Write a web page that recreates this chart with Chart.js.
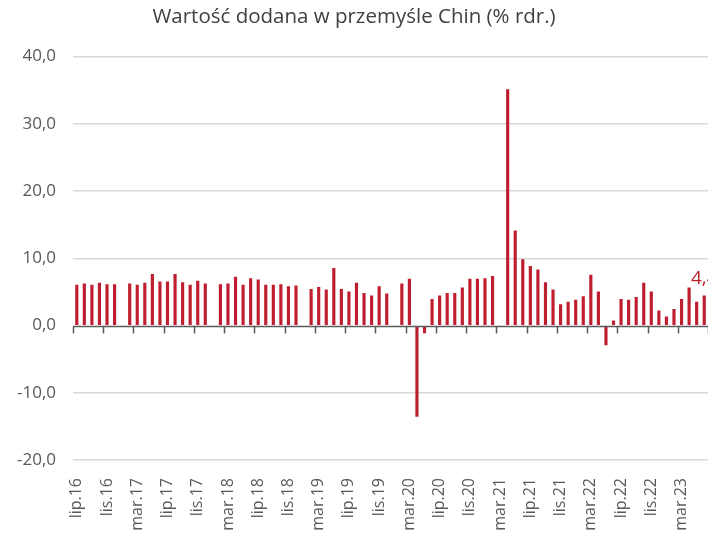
<!DOCTYPE html>
<html>
<head>
<meta charset="utf-8">
<script src="https://cdn.jsdelivr.net/npm/chart.js@4"></script>
<style>
  html, body { margin: 0; padding: 0; background: #fff; }
  #wrap { width: 708px; height: 537px; }
</style>
</head>
<body>
<div id="wrap"><canvas id="wykres" width="708" height="537"></canvas></div>
<script>
// miesiące (kategorie osi X)
const miesiace = [
  'lip.16', 'sie.16', 'wrz.16', 'paź.16', 'lis.16', 'gru.16',
  'sty.17', 'lut.17', 'mar.17', 'kwi.17', 'maj.17', 'cze.17', 'lip.17', 'sie.17', 'wrz.17', 'paź.17', 'lis.17', 'gru.17',
  'sty.18', 'lut.18', 'mar.18', 'kwi.18', 'maj.18', 'cze.18', 'lip.18', 'sie.18', 'wrz.18', 'paź.18', 'lis.18', 'gru.18',
  'sty.19', 'lut.19', 'mar.19', 'kwi.19', 'maj.19', 'cze.19', 'lip.19', 'sie.19', 'wrz.19', 'paź.19', 'lis.19', 'gru.19',
  'sty.20', 'lut.20', 'mar.20', 'kwi.20', 'maj.20', 'cze.20', 'lip.20', 'sie.20', 'wrz.20', 'paź.20', 'lis.20', 'gru.20',
  'sty.21', 'lut.21', 'mar.21', 'kwi.21', 'maj.21', 'cze.21', 'lip.21', 'sie.21', 'wrz.21', 'paź.21', 'lis.21', 'gru.21',
  'sty.22', 'lut.22', 'mar.22', 'kwi.22', 'maj.22', 'cze.22', 'lip.22', 'sie.22', 'wrz.22', 'paź.22', 'lis.22', 'gru.22',
  'sty.23', 'lut.23', 'mar.23', 'kwi.23', 'maj.23', 'cze.23'
];

// wartość dodana w przemyśle, % r/r (puste miesiące = null)
const wartosci = [
  6.0, 6.2, 6.0, 6.3, 6.1, 6.1,
  null, 6.2, 6.0, 6.3, 7.6, 6.5, 6.5, 7.6, 6.4, 6.0, 6.6, 6.2,
  null, 6.1, 6.2, 7.2, 6.0, 7.0, 6.8, 6.0, 6.0, 6.1, 5.8, 5.9,
  null, 5.4, 5.7, 5.3, 8.5, 5.4, 5.0, 6.3, 4.8, 4.4, 5.8, 4.7,
  null, 6.2, 6.9, -13.5, -1.1, 3.9, 4.4, 4.8, 4.8, 5.6, 6.9, 6.9, 7.0, 7.3,
  null, 35.1, 14.1, 9.8, 8.8, 8.3, 6.4, 5.3, 3.1, 3.5, 3.8, 4.3,
  7.5, 5.0, -2.9, 0.7, 3.9, 3.8, 4.2, 6.3, 5.0, 2.2, 1.3,
  2.4, 3.9, 5.6, 3.5, 4.4
];

// etykiety osi Y
const osY = [-20, -10, 0, 10, 20, 30, 40];

const tytul = 'Wartość dodana w przemyśle Chin (% rdr.)';
const czerwony = '#be1e2d';
const szary = '#595959';
const czcionka = "'Open Sans', sans-serif";

const fmt = v => v.toFixed(1).replace('.', ',');

// oś zera z kreskami co 4 miesiące + etykieta ostatniej wartości
const osZera = {
  id: 'osZera',
  afterDatasetsDraw(chart) {
    const { ctx, scales: { x, y } } = chart;
    const y0 = Math.round(y.getPixelForValue(0)) + 0.5;
    const w = x.getPixelForValue(1) - x.getPixelForValue(0);
    ctx.save();
    ctx.strokeStyle = szary;
    ctx.lineWidth = 1.5;
    ctx.beginPath();
    ctx.moveTo(x.left, y0);
    ctx.lineTo(x.right, y0);
    for (let i = 0; i <= miesiace.length; i += 4) {
      const px = Math.round(x.getPixelForValue(i) - w / 2) + 0.5;
      ctx.moveTo(px, y0);
      ctx.lineTo(px, y0 + 7);
    }
    ctx.stroke();

    // etykieta danych przy ostatnim słupku
    const ost = wartosci.length - 1;
    const bar = chart.getDatasetMeta(0).data[ost];
    ctx.fillStyle = czerwony;
    ctx.font = '19px ' + czcionka;
    ctx.textAlign = 'center';
    ctx.textBaseline = 'bottom';
    ctx.fillText(fmt(wartosci[ost]), bar.x, bar.y - 8);
    ctx.restore();
  }
};

new Chart(document.getElementById('wykres'), {
  type: 'bar',
  data: {
    labels: miesiace,
    datasets: [{
      data: wartosci,
      backgroundColor: czerwony,
      barThickness: 2.5
    }]
  },
  options: {
    responsive: false,
    animation: false,
    layout: { padding: 0 },
    plugins: {
      legend: { display: false },
      tooltip: { enabled: false },
      title: {
        display: true,
        text: tytul,
        color: '#404040',
        font: { family: czcionka, size: 20.5, weight: 'normal' },
        padding: { top: 5, bottom: 27 }
      }
    },
    scales: {
      x: {
        grid: { display: false },
        border: { display: false },
        ticks: {
          autoSkip: false,
          maxRotation: 90,
          minRotation: 90,
          padding: 10,
          color: szary,
          font: { family: czcionka, size: 16 },
          callback: (v, i) => (i % 4 === 0 ? miesiace[i] : '')
        },
        afterFit: s => {
          s.height = 77;
          s.paddingLeft = 0;
          s.paddingRight = 0;
        }
      },
      y: {
        min: osY[0],
        max: osY[osY.length - 1],
        afterBuildTicks: s => { s.ticks = osY.map(v => ({ value: v })); },
        grid: {
          color: c => (c.tick.value === 0 ? 'rgba(0,0,0,0)' : '#d9d9d9'),
          lineWidth: 1.5,
          drawTicks: false
        },
        border: { display: false },
        ticks: {
          padding: 17,
          color: szary,
          font: { family: czcionka, size: 17 },
          callback: v => fmt(v)
        },
        afterFit: s => {
          s.width = 73;
          s.paddingTop = 0;
          s.paddingBottom = 0;
        }
      }
    }
  },
  plugins: [osZera]
});
</script>
</body>
</html>
